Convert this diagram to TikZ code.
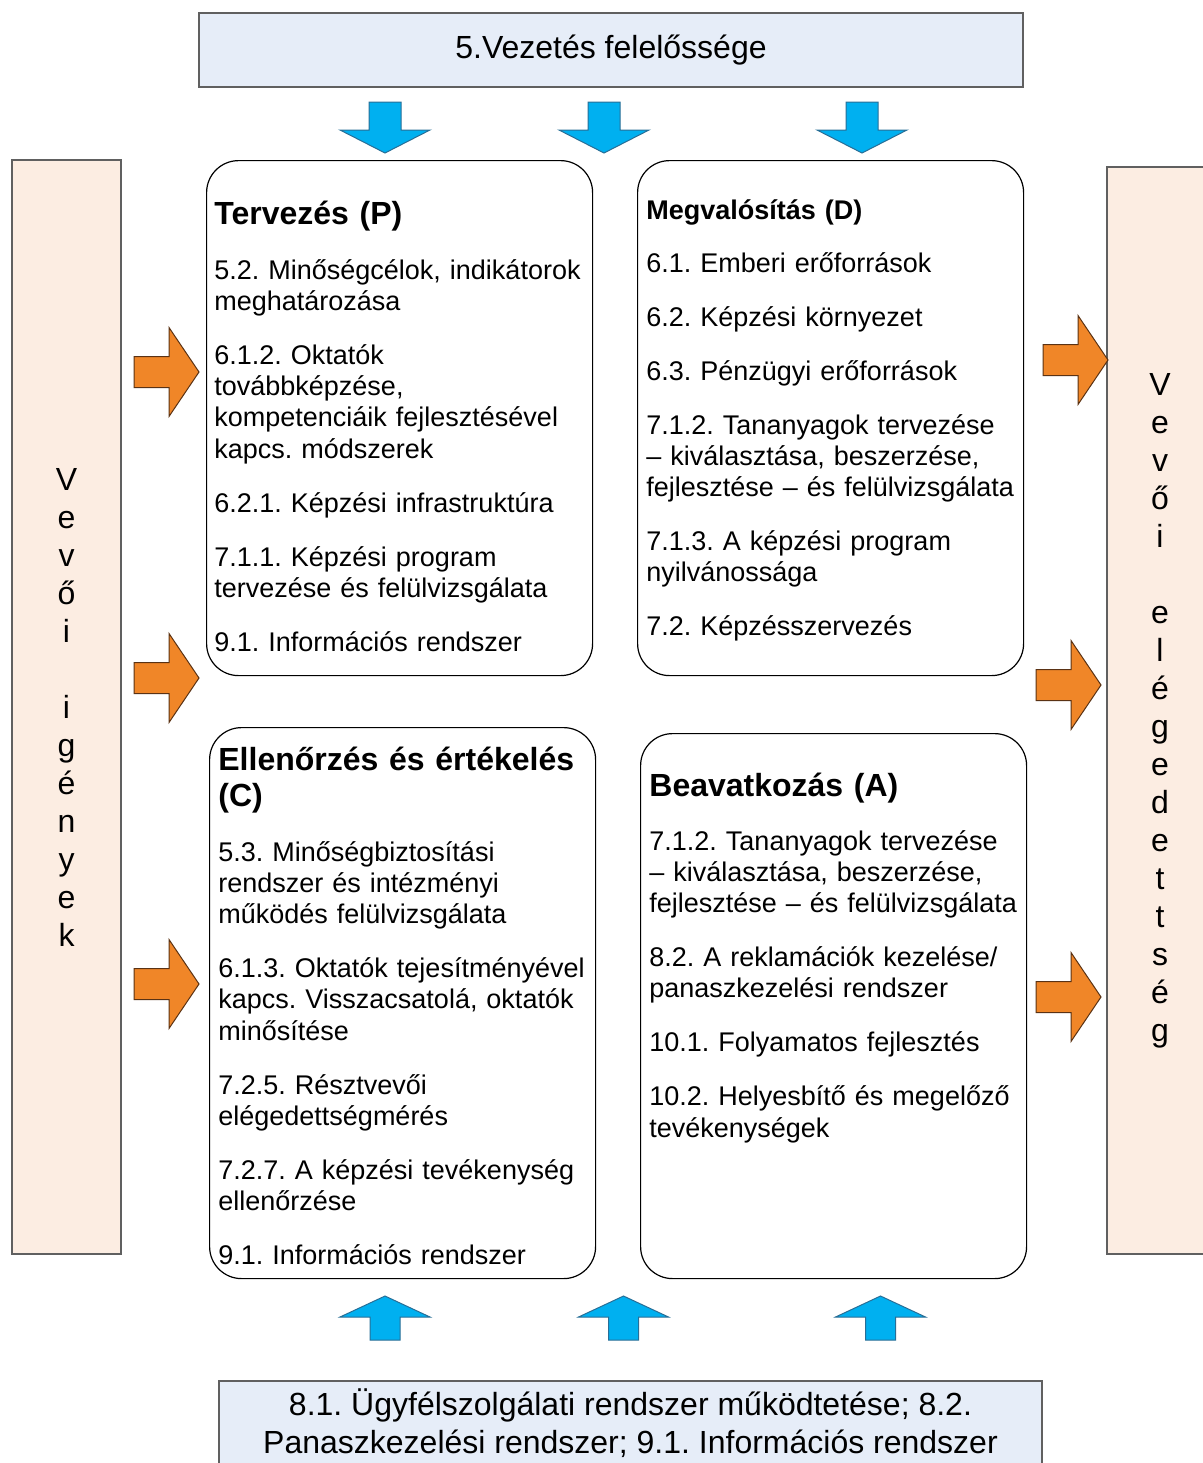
\documentclass[tikz,border=0pt]{standalone}
\usepackage{fontspec}
\setmainfont{Liberation Sans}
\usetikzlibrary{positioning}
\frenchspacing
\definecolor{bandblue}{RGB}{230,237,248}
\definecolor{sidepeach}{RGB}{252,237,226}
\definecolor{pushblue}{RGB}{0,176,240}
\definecolor{pushedge}{RGB}{40,110,150}
\definecolor{flowor}{RGB}{240,134,40}
\definecolor{flowedge}{RGB}{90,50,20}

\begin{document}
\begin{tikzpicture}[x=0.5pt, y=-0.5pt,
  band/.style={draw=gray!75!black, fill=bandblue, line width=0.6pt, inner sep=0pt,
               align=center, font=\fontsize{16}{19}\selectfont},
  side/.style={draw=gray!75!black, fill=sidepeach, line width=0.6pt, inner sep=0pt,
               align=center, font=\fontsize{16}{19}\selectfont},
  pdca/.style={draw=black, fill=white, line width=0.6pt, rounded corners=16pt,
               anchor=north west, inner sep=0pt, minimum width=193pt},
  ttl/.style={anchor=base west, inner sep=0pt, align=left, text width=190pt,
              font=\bfseries\fontsize{16}{18}\selectfont},
  items/.style={anchor=base west, inner sep=0pt, align=left, text width=190pt,
                font=\fontsize{13.5}{15.65}\selectfont},
  pusharr/.style={draw=pushedge, fill=pushblue, line width=0.5pt},
  flowarr/.style={draw=flowedge, fill=flowor, line width=0.5pt},
]
\useasboundingbox (0,0) rectangle (1203,1463);

%% Bands and side bars
\node[band, minimum width=412pt, minimum height=37pt] (lead) at (611,50)
  {5.Vezetés felelőssége};
\node[band, minimum width=411.5pt, minimum height=42pt] (support) at (630.5,1423)
  {8.1. Ügyfélszolgálati rendszer működtetése; 8.2.\\
   Panaszkezelési rendszer; 9.1. Információs rendszer};
\node[side, minimum width=54.5pt, minimum height=547pt] (needs) at (66.5,707)
  {V\\e\\v\\ő\\i\\[19pt]i\\g\\é\\n\\y\\e\\k};
\node[side, minimum width=53pt, minimum height=543.5pt] (satisf) at (1160,710.5)
  {V\\e\\v\\ő\\i\\[19pt]e\\l\\é\\g\\e\\d\\e\\t\\t\\s\\é\\g};

%% PDCA boxes
\node[pdca, minimum height=257.5pt] (plan)  at (206,160) {};
\node[pdca, minimum height=257.5pt] (do)    at (637,160) {};
\node[pdca, minimum height=275.5pt] (check) at (209,727) {};
\node[pdca, minimum height=272.5pt] (act)   at (640,733) {};

% plan
\node[ttl] (planT) at (214,224) {Tervezés (P)};
\node[items] (planL) at (214,279)
  {5.2. Minőségcélok, indikátorok\\ meghatározása\\[11.35pt]
   6.1.2. Oktatók\\ továbbképzése,\\ kompetenciáik fejlesztésével\\ kapcs. módszerek\\[11.35pt]
   6.2.1. Képzési infrastruktúra\\[11.35pt]
   7.1.1. Képzési program\\ tervezése és felülvizsgálata\\[11.35pt]
   9.1. Információs rendszer};

% do
\node[ttl, font=\bfseries\fontsize{13.5}{15.65}\selectfont] (doT) at (646,219)
  {Megvalósítás (D)};
\node[items] (doL) at (646,272)
  {6.1. Emberi erőforrások\\[11.35pt]
   6.2. Képzési környezet\\[11.35pt]
   6.3. Pénzügyi erőforrások\\[11.35pt]
   7.1.2. Tananyagok tervezése\\ – kiválasztása, beszerzése,\\ fejlesztése – és felülvizsgálata\\[11.35pt]
   7.1.3. A képzési program\\ nyilvánossága\\[11.35pt]
   7.2. Képzésszervezés};

% check
\node[ttl] (checkT) at (218,770) {Ellenőrzés és értékelés\\ (C)};
\node[items] (checkL) at (218,861)
  {5.3. Minőségbiztosítási\\ rendszer és intézményi\\ működés felülvizsgálata\\[11.35pt]
   6.1.3. Oktatók tejesítményével\\ kapcs. Visszacsatolá, oktatók\\ minősítése\\[11.35pt]
   7.2.5. Résztvevői\\ elégedettségmérés\\[11.35pt]
   7.2.7. A képzési tevékenység\\ ellenőrzése\\[11.35pt]
   9.1. Információs rendszer};

% act
\node[ttl] (actT) at (649,796) {Beavatkozás (A)};
\node[items] (actL) at (649,850)
  {7.1.2. Tananyagok tervezése\\ – kiválasztása, beszerzése,\\ fejlesztése – és felülvizsgálata\\[11.35pt]
   8.2. A reklamációk kezelése/\\ panaszkezelési rendszer\\[11.35pt]
   10.1. Folyamatos fejlesztés\\[11.35pt]
   10.2. Helyesbítő és megelőző\\ tevékenységek};

%% Block arrows
% down from the band
\foreach \cx in {385,604,862}
  \draw[pusharr] (\cx-16,102) -- (\cx+16,102) -- (\cx+16,130) -- (\cx+45,130)
    -- (\cx,153) -- (\cx-45,130) -- (\cx-16,130) -- cycle;

% up from the bottom band
\foreach \cx in {385,623.5,880.5}
  \draw[pusharr] (\cx-15,1340) -- (\cx+15,1340) -- (\cx+15,1317) -- (\cx+45,1317)
    -- (\cx,1296) -- (\cx-45,1317) -- (\cx-15,1317) -- cycle;

% needs -> boxes, boxes -> satisfaction
\foreach \tx/\cy in {134/372, 134/678, 134/984, 1043/360, 1036/685, 1036/997}
  \draw[flowarr] (\tx,\cy-15.5) -- (\tx+35,\cy-15.5) -- (\tx+35,\cy-44.5) -- (\tx+65,\cy)
    -- (\tx+35,\cy+44.5) -- (\tx+35,\cy+15.5) -- (\tx,\cy+15.5) -- cycle;

\end{tikzpicture}
\end{document}
